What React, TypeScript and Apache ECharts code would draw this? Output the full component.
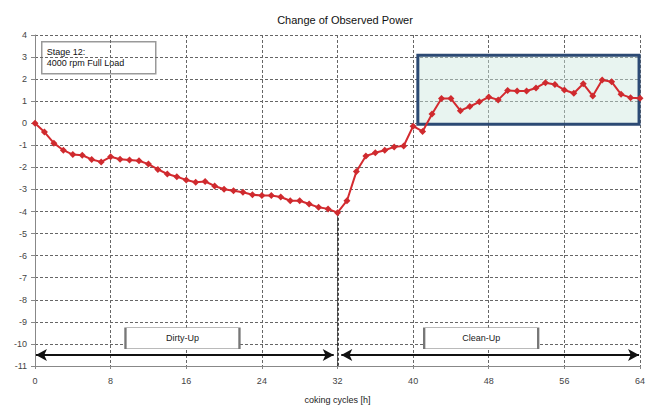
import React, { useEffect, useRef } from "react";
import * as echarts from "echarts";

const titleText = "Change of Observed Power";
const xAxisName = "coking cycles [h]";
const noteLines = ["Stage 12:", "4000 rpm Full Load"];
const hours = Array.from({ length: 65 }, (_, i) => i);
const power = [
  0, -0.4, -0.9, -1.22, -1.42, -1.45, -1.64, -1.75, -1.52, -1.63,
  -1.67, -1.7, -1.85, -2.09, -2.3, -2.42, -2.57, -2.67, -2.64, -2.84,
  -2.99, -3.06, -3.13, -3.24, -3.27, -3.27, -3.34, -3.51, -3.51, -3.66,
  -3.81, -3.88, -4.05, -3.51, -2.19, -1.48, -1.34, -1.22, -1.07, -1.03,
  -0.13, -0.37, 0.42, 1.12, 1.12, 0.57, 0.76, 0.97, 1.19, 1.06,
  1.49, 1.46, 1.46, 1.6, 1.84, 1.76, 1.51, 1.36, 1.79, 1.24,
  1.96, 1.88, 1.31, 1.16, 1.13,
];
const phaseLabels = ["Dirty-Up", "Clean-Up"];
const phaseLabelX = [15.6, 47.2];
const phaseLabelY = -9.74;
const arrowY = -10.5;
const splitX = 32;
const boxRange = [[40.5, 3.08], [63.9, -0.05]];

export default function App() {
  const ref = useRef<HTMLDivElement>(null);
  useEffect(() => {
    if (!ref.current) return;
    const chart = echarts.init(ref.current, null, { renderer: "svg" });
    const font = "Liberation Sans, Arial, sans-serif";
    chart.setOption({
      animation: false,
      backgroundColor: "#ffffff",
      textStyle: { fontFamily: font },
      title: {
        text: titleText,
        left: 340,
        textAlign: "center",
        top: 9,
        textStyle: { fontSize: 11, fontWeight: "normal", color: "#111", fontFamily: font },
      },
      grid: { left: 35, right: 3, top: 35, bottom: 38, containLabel: false },
      xAxis: {
        type: "value",
        min: 0,
        max: 64,
        interval: 8,
        name: xAxisName,
        nameLocation: "middle",
        nameGap: 29,
        nameTextStyle: { fontSize: 9, color: "#222", fontFamily: font },
        axisLine: { onZero: false, lineStyle: { color: "#888", width: 1 } },
        axisTick: { show: true, length: 3, lineStyle: { color: "#888" } },
        axisLabel: { fontSize: 9, color: "#444", margin: 10, fontFamily: font },
        splitLine: { show: true, lineStyle: { color: "#666", type: [3, 2], width: 1 } },
      },
      yAxis: {
        type: "value",
        min: -11,
        max: 4,
        interval: 1,
        axisLine: { show: true, onZero: false, lineStyle: { color: "#888", width: 1 } },
        axisTick: { show: true, length: 4, lineStyle: { color: "#888" } },
        axisLabel: { fontSize: 9, color: "#444", margin: 8, fontFamily: font },
        splitLine: { show: true, lineStyle: { color: "#666", type: [3, 2], width: 1 } },
      },
      graphic: [
        {
          type: "group",
          left: 41,
          top: 41,
          children: [
            {
              type: "rect",
              shape: { x: 0, y: 0, width: 114, height: 32 },
              style: { fill: "#fff", stroke: "#999", lineWidth: 1.5 },
            },
            {
              type: "text",
              x: 5,
              y: 5,
              style: {
                text: noteLines.join("\n"),
                font: `9px ${font}`,
                fill: "#111",
                lineHeight: 11,
              },
            },
          ],
        },
      ],
      series: [
        {
          type: "line",
          data: hours.map((h, i) => [h, power[i]]),
          symbol: "diamond",
          symbolSize: 7,
          lineStyle: { color: "#d42a2f", width: 2 },
          itemStyle: { color: "#cf2a2e" },
          z: 5,
          markArea: {
            silent: true,
            itemStyle: {
              color: "rgba(205,230,222,0.45)",
              borderColor: "#2c4a74",
              borderWidth: 3,
            },
            data: [[{ coord: boxRange[0] }, { coord: boxRange[1] }]],
          },
          markLine: {
            silent: true,
            label: { show: false },
            data: [
              [
                { coord: [splitX, power[32]], symbol: "none", lineStyle: { color: "#111", type: [3, 2], width: 1.5 } },
                { coord: [splitX, -11], symbol: "none" },
              ],
              [
                { coord: [0.1, arrowY], symbol: "arrow", symbolSize: [9, 11], lineStyle: { color: "#111", type: "solid", width: 2 } },
                { coord: [31.6, arrowY], symbol: "arrow", symbolSize: [9, 11] },
              ],
              [
                { coord: [32.4, arrowY], symbol: "arrow", symbolSize: [9, 11], lineStyle: { color: "#111", type: "solid", width: 2 } },
                { coord: [63.9, arrowY], symbol: "arrow", symbolSize: [9, 11] },
              ],
            ],
            itemStyle: { color: "#111" },
          },
          markPoint: {
            silent: true,
            symbol: "rect",
            symbolSize: [114, 21],
            itemStyle: { color: "#fff", borderColor: "#777", borderWidth: 1 },
            label: { show: true, color: "#222", fontSize: 9, fontFamily: font, position: "inside" },
            data: phaseLabels.map((t, i) => ({
              coord: [phaseLabelX[i], phaseLabelY],
              value: t,
              label: { formatter: t },
            })),
          },
        },
      ],
    });
    return () => chart.dispose();
  }, []);
  return <div ref={ref} style={{ width: 648, height: 409, position: "absolute", left: 0, top: 0 }} />;
}
